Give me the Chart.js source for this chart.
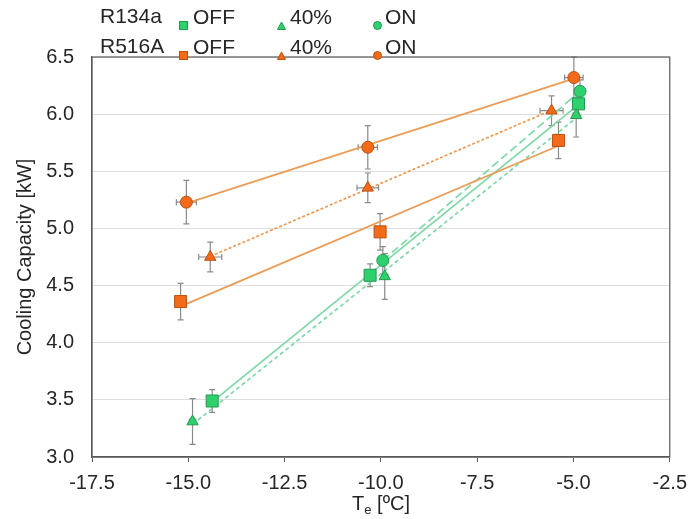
<!DOCTYPE html>
<html>
<head>
<meta charset="utf-8">
<script src="https://cdn.jsdelivr.net/npm/chart.js@4.4.0/dist/chart.umd.min.js"></script>
<style>
    body { margin: 0; background: #fff; font-family: "Liberation Sans", Arial, sans-serif; }
    #wrap { position: relative; width: 696px; height: 519px; }
    #legend { position: absolute; left: 0; top: 0; width: 696px; height: 60px; color: #262626; font-size: 21px; }
    .lg { position: absolute; line-height: 21px; white-space: nowrap; }
    .mk { position: absolute; }
    #xtitle { position: absolute; left: 331px; width: 100px; top: 492px; text-align: center; font-size: 20px; color: #262626; }
    #xtitle sub { font-size: 13px; vertical-align: -4px; }
</style>
</head>
<body>
<div id="wrap">
    <canvas id="capacity-chart" width="696" height="519"></canvas>
    <div id="legend"></div>
    <div id="xtitle">T<sub>e</sub> [ºC]</div>
</div>
<script>
// axis ticks
const xTicks = [-17.5, -15.0, -12.5, -10.0, -7.5, -5.0, -2.5];
const yTicks = [3.0, 3.5, 4.0, 4.5, 5.0, 5.5, 6.0, 6.5];

// R134a
const r134aOffX = [-14.38, -10.28, -4.87];
const r134aOffY = [3.49, 4.59, 6.09];
const r134aOffErrX = [0.10, 0.10, 0.10];
const r134aOffErrY = [0.10, 0.10, 0.10];

const r134a40X = [-14.89, -9.90, -4.93];
const r134a40Y = [3.31, 4.58, 5.99];
const r134a40ErrX = [0.08, 0.08, 0.08];
const r134a40ErrY = [0.20, 0.20, 0.19];

const r134aOnX = [-9.95, -4.83];
const r134aOnY = [4.72, 6.20];
const r134aOnErrX = [0.08, 0.10];
const r134aOnErrY = [0.12, 0.10];

// R516A
const r516aOffX = [-15.20, -10.02, -5.39];
const r516aOffY = [4.36, 4.97, 5.77];
const r516aOffErrX = [0.12, 0.10, 0.10];
const r516aOffErrY = [0.16, 0.16, 0.16];

const r516a40X = [-14.43, -10.34, -5.57];
const r516a40Y = [4.75, 5.355, 6.03];
const r516a40ErrX = [0.30, 0.28, 0.30];
const r516a40ErrY = [0.13, 0.13, 0.13];

const r516aOnX = [-15.05, -10.34, -4.99];
const r516aOnY = [5.23, 5.71, 6.32];
const r516aOnErrX = [0.26, 0.25, 0.24];
const r516aOnErrY = [0.19, 0.19, 0.18];

const greenFill = '#2fd16f', greenEdge = '#1f9a4f', greenLine = '#7dd8a6';
const orangeFill = '#f36a1a', orangeEdge = '#b9500f', orangeLine = '#eb9b55';

function toPoints(xs, ys) {
    return xs.map((x, i) => ({ x: x, y: ys[i] }));
}

// least squares line through a series, from its first to last x
function fitLine(xs, ys) {
    const n = xs.length;
    const mx = xs.reduce((a, b) => a + b, 0) / n;
    const my = ys.reduce((a, b) => a + b, 0) / n;
    let sxy = 0, sxx = 0;
    xs.forEach((x, i) => { sxy += (x - mx) * (ys[i] - my); sxx += (x - mx) * (x - mx); });
    const slope = sxy / sxx;
    const x0 = Math.min(...xs), x1 = Math.max(...xs);
    return [{ x: x0, y: my + slope * (x0 - mx) }, { x: x1, y: my + slope * (x1 - mx) }];
}

function markerSet(xs, ys, ex, ey, style, fill, edge, radius) {
    return {
        type: 'scatter', data: toPoints(xs, ys), errX: ex, errY: ey,
        pointStyle: style, pointRadius: radius, pointHoverRadius: radius,
        backgroundColor: fill, borderColor: edge, borderWidth: 1, showLine: false, order: 1
    };
}

function lineSet(xs, ys, color, dash) {
    return {
        type: 'line', data: fitLine(xs, ys), borderColor: color, borderWidth: 1.7,
        borderDash: dash, pointRadius: 0, fill: false, order: 2
    };
}

const errorBars = {
    id: 'errorBars',
    beforeDatasetsDraw(chart) {
        const ctx = chart.ctx, xs = chart.scales.x, ys = chart.scales.y;
        ctx.save();
        ctx.strokeStyle = '#8a8a8a';
        ctx.lineWidth = 1.2;
        chart.data.datasets.forEach(ds => {
            if (!ds.errY) return;
            ds.data.forEach((p, i) => {
                const px = xs.getPixelForValue(p.x), py = ys.getPixelForValue(p.y);
                const top = ys.getPixelForValue(p.y + ds.errY[i]), bot = ys.getPixelForValue(p.y - ds.errY[i]);
                const lft = xs.getPixelForValue(p.x - ds.errX[i]), rgt = xs.getPixelForValue(p.x + ds.errX[i]);
                ctx.beginPath();
                ctx.moveTo(px, top); ctx.lineTo(px, bot);
                ctx.moveTo(px - 3, top); ctx.lineTo(px + 3, top);
                ctx.moveTo(px - 3, bot); ctx.lineTo(px + 3, bot);
                ctx.moveTo(lft, py); ctx.lineTo(rgt, py);
                ctx.moveTo(lft, py - 3); ctx.lineTo(lft, py + 3);
                ctx.moveTo(rgt, py - 3); ctx.lineTo(rgt, py + 3);
                ctx.stroke();
            });
        });
        ctx.restore();
    }
};

const frameBox = {
    id: 'frameBox',
    afterDraw(chart) {
        const a = chart.chartArea, ctx = chart.ctx;
        ctx.save();
        ctx.strokeStyle = '#595959';
        ctx.lineWidth = 1.2;
        ctx.strokeRect(a.left, a.top, a.right - a.left, a.bottom - a.top);
        ctx.restore();
    }
};

new Chart(document.getElementById('capacity-chart').getContext('2d'), {
    type: 'scatter',
    data: {
        datasets: [
            markerSet(r516aOnX, r516aOnY, r516aOnErrX, r516aOnErrY, 'circle', orangeFill, orangeEdge, 6),
            markerSet(r516a40X, r516a40Y, r516a40ErrX, r516a40ErrY, 'triangle', orangeFill, orangeEdge, 6.5),
            markerSet(r516aOffX, r516aOffY, r516aOffErrX, r516aOffErrY, 'rect', orangeFill, orangeEdge, 8.5),
            markerSet(r134aOnX, r134aOnY, r134aOnErrX, r134aOnErrY, 'circle', greenFill, greenEdge, 6),
            markerSet(r134a40X, r134a40Y, r134a40ErrX, r134a40ErrY, 'triangle', greenFill, greenEdge, 6.5),
            markerSet(r134aOffX, r134aOffY, r134aOffErrX, r134aOffErrY, 'rect', greenFill, greenEdge, 8.5),
            lineSet(r516aOnX, r516aOnY, orangeLine, []),
            lineSet(r516a40X, r516a40Y, orangeLine, [3, 2]),
            lineSet(r516aOffX, r516aOffY, orangeLine, []),
            lineSet(r134aOnX, r134aOnY, greenLine, [8, 4]),
            lineSet(r134a40X, r134a40Y, greenLine, [4, 3]),
            lineSet(r134aOffX, r134aOffY, greenLine, [])
        ]
    },
    options: {
        responsive: false,
        animation: false,
        layout: { padding: { top: 57, right: 24, left: 0, bottom: 0 } },
        plugins: { legend: { display: false }, tooltip: { enabled: false } },
        scales: {
            x: {
                type: 'linear',
                min: xTicks[0],
                max: xTicks[xTicks.length - 1],
                afterBuildTicks: scale => { scale.ticks = xTicks.map(v => ({ value: v })); },
                afterFit: scale => { scale.height = 62; },
                ticks: {
                    color: '#262626',
                    font: { family: '"Liberation Sans", Arial', size: 20 },
                    padding: 9,
                    maxRotation: 0,
                    callback: v => v.toFixed(1)
                },
                grid: { drawOnChartArea: false, drawTicks: true, tickLength: 5, color: '#595959' },
                border: { color: '#595959', width: 1.2 }
            },
            y: {
                min: yTicks[0],
                max: yTicks[yTicks.length - 1],
                afterBuildTicks: scale => { scale.ticks = yTicks.map(v => ({ value: v })); },
                afterFit: scale => { scale.width = 92; },
                ticks: {
                    color: '#262626',
                    font: { family: '"Liberation Sans", Arial', size: 20 },
                    padding: 18,
                    callback: v => v.toFixed(1)
                },
                grid: { color: '#dedede', drawTicks: false, lineWidth: 1 },
                border: { color: '#595959', width: 1.2 },
                title: {
                    display: true,
                    text: 'Cooling Capacity [kW]',
                    color: '#262626',
                    font: { family: '"Liberation Sans", Arial', size: 20 },
                    padding: { top: 13, bottom: 0 }
                }
            }
        }
    },
    plugins: [errorBars, frameBox]
});

// Legend rows
const legendRows = [
    { name: 'R134a', fill: greenFill, edge: greenEdge, y: 16 },
    { name: 'R516A', fill: orangeFill, edge: orangeEdge, y: 46 }
];
const legendCols = [
    { label: 'OFF', shape: 'square', mx: 183, tx: 193 },
    { label: '40%', shape: 'triangle', mx: 281, tx: 290 },
    { label: 'ON', shape: 'circle', mx: 377, tx: 385 }
];
const legendBox = document.getElementById('legend');
legendRows.forEach(row => {
    const name = document.createElement('div');
    name.className = 'lg';
    name.style.left = '100px';
    name.style.top = (row.y - 11) + 'px';
    name.textContent = row.name;
    legendBox.appendChild(name);
    legendCols.forEach(col => {
        let shape;
        if (col.shape === 'square') shape = `<rect x="1.5" y="1.5" width="8" height="8" fill="${row.fill}" stroke="${row.edge}" stroke-width="1"/>`;
        else if (col.shape === 'triangle') shape = `<polygon points="5.5,2 9.5,9.5 1.5,9.5" fill="${row.fill}" stroke="${row.edge}" stroke-width="1"/>`;
        else shape = `<circle cx="5.5" cy="5.5" r="4" fill="${row.fill}" stroke="${row.edge}" stroke-width="1"/>`;
        const mk = document.createElement('div');
        mk.className = 'mk';
        mk.style.left = (col.mx - 5.5) + 'px';
        mk.style.top = (row.y - 4.5) + 'px';
        mk.innerHTML = `<svg width="11" height="11">${shape}</svg>`;
        legendBox.appendChild(mk);
        const txt = document.createElement('div');
        txt.className = 'lg';
        txt.style.left = col.tx + 'px';
        txt.style.top = (row.y - 10) + 'px';
        txt.textContent = col.label;
        legendBox.appendChild(txt);
    });
});
</script>
</body>
</html>
